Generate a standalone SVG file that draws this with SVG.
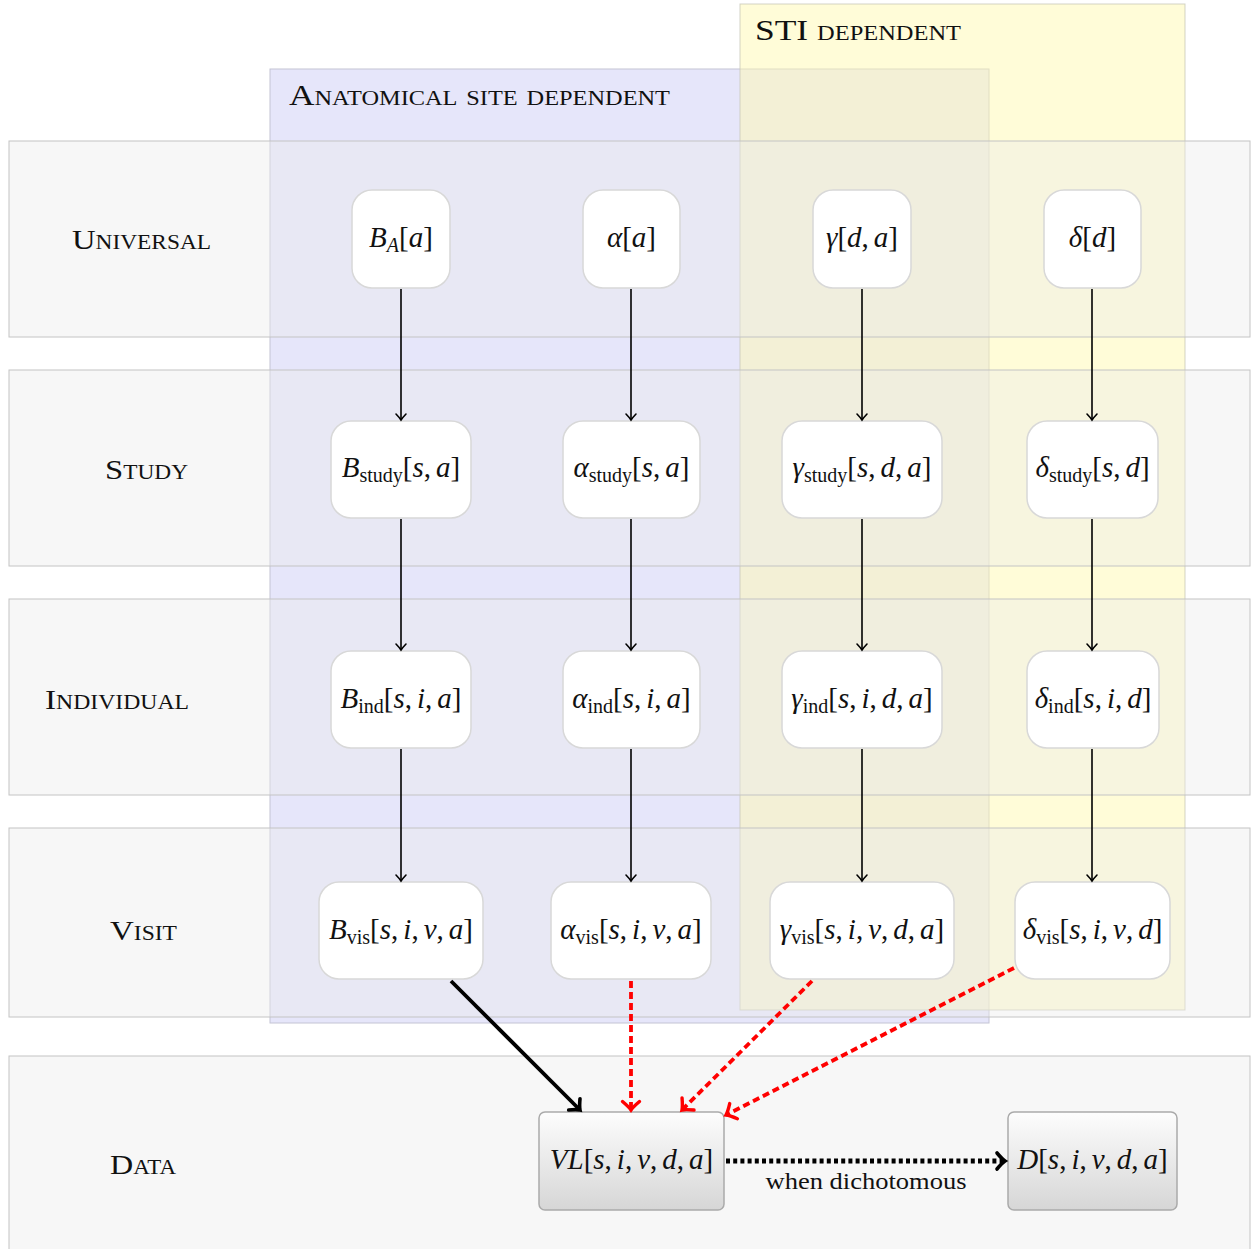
<svg xmlns="http://www.w3.org/2000/svg" width="1254" height="1249" viewBox="0 0 1254 1249">
<style>
.band{fill:#ebebeb;fill-opacity:0.4;stroke:#c4c4c4;stroke-width:1}
.blue{fill:#e6e6fa;stroke:#c4c4d4;stroke-width:1}
.yel{fill:#fff9b1;fill-opacity:0.5;stroke:#c8c8b8;stroke-opacity:0.8;stroke-width:1}
.lab{font-family:"Liberation Serif",serif;font-variant:small-caps;font-size:28px;fill:#111}
.top{font-family:"Liberation Serif",serif;font-variant:small-caps;font-size:29px;fill:#111}
.nd{fill:#fff;stroke:#d8d8d8;stroke-width:1.5}
.dn{fill:url(#g);stroke:#aaa;stroke-width:1.5}
.mt{font-family:"Liberation Serif",serif;font-size:29px;fill:#111;text-anchor:middle}
.cap{font-family:"Liberation Serif",serif;font-size:23px;fill:#111;text-anchor:middle}
.i{font-style:italic}
.s{font-size:20px}
.ar{fill:none;stroke:#000;stroke-width:1.6}
.thick{fill:none;stroke:#000;stroke-width:3.8}
.red{fill:none;stroke:#f00;stroke-width:3.8;stroke-dasharray:7 4}
.dot{fill:none;stroke:#000;stroke-width:5;stroke-dasharray:4 3.2}
</style>
<defs>
<linearGradient id="g" x1="0" y1="0" x2="0" y2="1">
<stop offset="0" stop-color="#fdfdfd"/>
<stop offset="1" stop-color="#d6d6d6"/>
</linearGradient>
<marker id="ah" markerUnits="userSpaceOnUse" markerWidth="20" markerHeight="20" viewBox="-10 -10 20 20" refX="0" refY="0" orient="auto" overflow="visible">
<path d="M-6,-5 Q-2,-1.2 0,0 Q-2,1.2 -6,5" fill="none" stroke="#000" stroke-width="1.6" stroke-linecap="round"/>
</marker>
<marker id="ahk" markerUnits="userSpaceOnUse" markerWidth="30" markerHeight="30" viewBox="-15 -15 30 30" refX="0" refY="0" orient="auto" overflow="visible">
<path d="M-8,-8 Q-3,-2 0,0 Q-3,2 -8,8" fill="none" stroke="#000" stroke-width="3.6" stroke-linecap="round"/>
</marker>
<marker id="ahr" markerUnits="userSpaceOnUse" markerWidth="30" markerHeight="30" viewBox="-15 -15 30 30" refX="0" refY="0" orient="auto" overflow="visible">
<path d="M-8.5,-8.5 Q-3,-2 0,0 Q-3,2 -8.5,8.5" fill="none" stroke="#f00" stroke-width="3.4" stroke-linecap="round"/>
</marker>
</defs>
<rect width="1254" height="1249" fill="#fff"/>
<g id="regions">
<rect class="blue" x="270" y="69" width="719" height="954"/>
<rect class="yel" x="740" y="4" width="445" height="1006"/>
</g>
<g id="bands">
<rect class="band" x="9" y="141" width="1241" height="196"/>
<rect class="band" x="9" y="370" width="1241" height="196"/>
<rect class="band" x="9" y="599" width="1241" height="196"/>
<rect class="band" x="9" y="828" width="1241" height="189"/>
<rect class="band" x="9" y="1056" width="1241" height="200"/>
</g>
<g id="labels">
<text class="top" x="289" y="105" textLength="381" lengthAdjust="spacingAndGlyphs">Anatomical site dependent</text>
<text class="top" x="755" y="40" textLength="206" lengthAdjust="spacingAndGlyphs">STI dependent</text>
<text class="lab" x="72" y="249" textLength="139" lengthAdjust="spacingAndGlyphs">Universal</text>
<text class="lab" x="105" y="479" textLength="83" lengthAdjust="spacingAndGlyphs">Study</text>
<text class="lab" x="45" y="709" textLength="144" lengthAdjust="spacingAndGlyphs">Individual</text>
<text class="lab" x="110" y="940" textLength="67" lengthAdjust="spacingAndGlyphs">Visit</text>
<text class="lab" x="110" y="1174" textLength="66" lengthAdjust="spacingAndGlyphs">Data</text>
</g>
<g id="n-BA"><rect class="nd" x="352" y="190" width="98" height="98" rx="20"/><text class="mt" x="401" y="247"><tspan class="i">B</tspan><tspan class="i s" dy="5">A</tspan><tspan dy="-5">[</tspan><tspan class="i">a</tspan>]</text></g>
<g id="n-alpha"><rect class="nd" x="583" y="190" width="97" height="98" rx="20"/><text class="mt" x="631.5" y="247"><tspan class="i">α</tspan>[<tspan class="i">a</tspan>]</text></g>
<g id="n-gamma"><rect class="nd" x="813" y="190" width="98" height="98" rx="20"/><text class="mt" x="862" y="247"><tspan class="i">γ</tspan>[<tspan class="i">d</tspan>,<tspan class="i" dx="5">a</tspan>]</text></g>
<g id="n-delta"><rect class="nd" x="1044" y="190" width="97" height="98" rx="20"/><text class="mt" x="1092.5" y="247"><tspan class="i">δ</tspan>[<tspan class="i">d</tspan>]</text></g>

<g id="n-Bstudy"><rect class="nd" x="331" y="421" width="140" height="97" rx="20"/><text class="mt" x="401" y="477"><tspan class="i">B</tspan><tspan class="s" dy="5">study</tspan><tspan dy="-5">[</tspan><tspan class="i">s</tspan>,<tspan class="i" dx="5">a</tspan>]</text></g>
<g id="n-alphastudy"><rect class="nd" x="563" y="421" width="137" height="97" rx="20"/><text class="mt" x="631.5" y="477"><tspan class="i">α</tspan><tspan class="s" dy="5">study</tspan><tspan dy="-5">[</tspan><tspan class="i">s</tspan>,<tspan class="i" dx="5">a</tspan>]</text></g>
<g id="n-gammastudy"><rect class="nd" x="782" y="421" width="160" height="97" rx="20"/><text class="mt" x="862" y="477"><tspan class="i">γ</tspan><tspan class="s" dy="5">study</tspan><tspan dy="-5">[</tspan><tspan class="i">s</tspan>,<tspan class="i" dx="5">d</tspan>,<tspan class="i" dx="5">a</tspan>]</text></g>
<g id="n-deltastudy"><rect class="nd" x="1027" y="421" width="131" height="97" rx="20"/><text class="mt" x="1092.5" y="477"><tspan class="i">δ</tspan><tspan class="s" dy="5">study</tspan><tspan dy="-5">[</tspan><tspan class="i">s</tspan>,<tspan class="i" dx="5">d</tspan>]</text></g>

<g id="n-Bind"><rect class="nd" x="331" y="651" width="140" height="97" rx="20"/><text class="mt" x="401" y="708"><tspan class="i">B</tspan><tspan class="s" dy="5">ind</tspan><tspan dy="-5">[</tspan><tspan class="i">s</tspan>,<tspan class="i" dx="5">i</tspan>,<tspan class="i" dx="5">a</tspan>]</text></g>
<g id="n-alphaind"><rect class="nd" x="563" y="651" width="137" height="97" rx="20"/><text class="mt" x="631.5" y="708"><tspan class="i">α</tspan><tspan class="s" dy="5">ind</tspan><tspan dy="-5">[</tspan><tspan class="i">s</tspan>,<tspan class="i" dx="5">i</tspan>,<tspan class="i" dx="5">a</tspan>]</text></g>
<g id="n-gammaind"><rect class="nd" x="782" y="651" width="160" height="97" rx="20"/><text class="mt" x="862" y="708"><tspan class="i">γ</tspan><tspan class="s" dy="5">ind</tspan><tspan dy="-5">[</tspan><tspan class="i">s</tspan>,<tspan class="i" dx="5">i</tspan>,<tspan class="i" dx="5">d</tspan>,<tspan class="i" dx="5">a</tspan>]</text></g>
<g id="n-deltaind"><rect class="nd" x="1027" y="651" width="132" height="97" rx="20"/><text class="mt" x="1093" y="708"><tspan class="i">δ</tspan><tspan class="s" dy="5">ind</tspan><tspan dy="-5">[</tspan><tspan class="i">s</tspan>,<tspan class="i" dx="5">i</tspan>,<tspan class="i" dx="5">d</tspan>]</text></g>

<g id="n-Bvis"><rect class="nd" x="319" y="882" width="164" height="97" rx="20"/><text class="mt" x="401" y="939"><tspan class="i">B</tspan><tspan class="s" dy="5">vis</tspan><tspan dy="-5">[</tspan><tspan class="i">s</tspan>,<tspan class="i" dx="5">i</tspan>,<tspan class="i" dx="5">v</tspan>,<tspan class="i" dx="5">a</tspan>]</text></g>
<g id="n-alphavis"><rect class="nd" x="551" y="882" width="160" height="97" rx="20"/><text class="mt" x="631" y="939"><tspan class="i">α</tspan><tspan class="s" dy="5">vis</tspan><tspan dy="-5">[</tspan><tspan class="i">s</tspan>,<tspan class="i" dx="5">i</tspan>,<tspan class="i" dx="5">v</tspan>,<tspan class="i" dx="5">a</tspan>]</text></g>
<g id="n-gammavis"><rect class="nd" x="770" y="882" width="184" height="97" rx="20"/><text class="mt" x="862" y="939"><tspan class="i">γ</tspan><tspan class="s" dy="5">vis</tspan><tspan dy="-5">[</tspan><tspan class="i">s</tspan>,<tspan class="i" dx="5">i</tspan>,<tspan class="i" dx="5">v</tspan>,<tspan class="i" dx="5">d</tspan>,<tspan class="i" dx="5">a</tspan>]</text></g>
<g id="n-deltavis"><rect class="nd" x="1015" y="882" width="155" height="97" rx="20"/><text class="mt" x="1092.5" y="939"><tspan class="i">δ</tspan><tspan class="s" dy="5">vis</tspan><tspan dy="-5">[</tspan><tspan class="i">s</tspan>,<tspan class="i" dx="5">i</tspan>,<tspan class="i" dx="5">v</tspan>,<tspan class="i" dx="5">d</tspan>]</text></g>

<g id="n-VL"><rect class="dn" x="539" y="1112" width="185" height="98" rx="6"/><text class="mt" x="631.5" y="1169"><tspan class="i">VL</tspan>[<tspan class="i">s</tspan>,<tspan class="i" dx="5">i</tspan>,<tspan class="i" dx="5">v</tspan>,<tspan class="i" dx="5">d</tspan>,<tspan class="i" dx="5">a</tspan>]</text></g>
<g id="n-D"><rect class="dn" x="1008" y="1112" width="169" height="98" rx="6"/><text class="mt" x="1092.5" y="1169"><tspan class="i">D</tspan>[<tspan class="i">s</tspan>,<tspan class="i" dx="5">i</tspan>,<tspan class="i" dx="5">v</tspan>,<tspan class="i" dx="5">d</tspan>,<tspan class="i" dx="5">a</tspan>]</text></g>

<g id="connectors">
<line class="ar" x1="401" y1="289" x2="401" y2="420" marker-end="url(#ah)"/>
<line class="ar" x1="631" y1="289" x2="631" y2="420" marker-end="url(#ah)"/>
<line class="ar" x1="862" y1="289" x2="862" y2="420" marker-end="url(#ah)"/>
<line class="ar" x1="1092" y1="289" x2="1092" y2="420" marker-end="url(#ah)"/>
<line class="ar" x1="401" y1="519" x2="401" y2="650" marker-end="url(#ah)"/>
<line class="ar" x1="631" y1="519" x2="631" y2="650" marker-end="url(#ah)"/>
<line class="ar" x1="862" y1="519" x2="862" y2="650" marker-end="url(#ah)"/>
<line class="ar" x1="1092" y1="519" x2="1092" y2="650" marker-end="url(#ah)"/>
<line class="ar" x1="401" y1="749" x2="401" y2="881" marker-end="url(#ah)"/>
<line class="ar" x1="631" y1="749" x2="631" y2="881" marker-end="url(#ah)"/>
<line class="ar" x1="862" y1="749" x2="862" y2="881" marker-end="url(#ah)"/>
<line class="ar" x1="1092" y1="749" x2="1092" y2="881" marker-end="url(#ah)"/>
<line class="thick" x1="451" y1="981" x2="580" y2="1110" marker-end="url(#ahk)"/>
<line class="red" x1="631" y1="981" x2="631" y2="1110" marker-end="url(#ahr)"/>
<line class="red" x1="812" y1="981" x2="682" y2="1110" marker-end="url(#ahr)"/>
<line class="red" x1="1014" y1="968" x2="726" y2="1115" marker-end="url(#ahr)"/>
<line class="dot" x1="726" y1="1161" x2="1005" y2="1161" marker-end="url(#ahk)"/>
<text class="cap" x="866" y="1189" textLength="201" lengthAdjust="spacingAndGlyphs">when dichotomous</text>
</g>
</svg>
